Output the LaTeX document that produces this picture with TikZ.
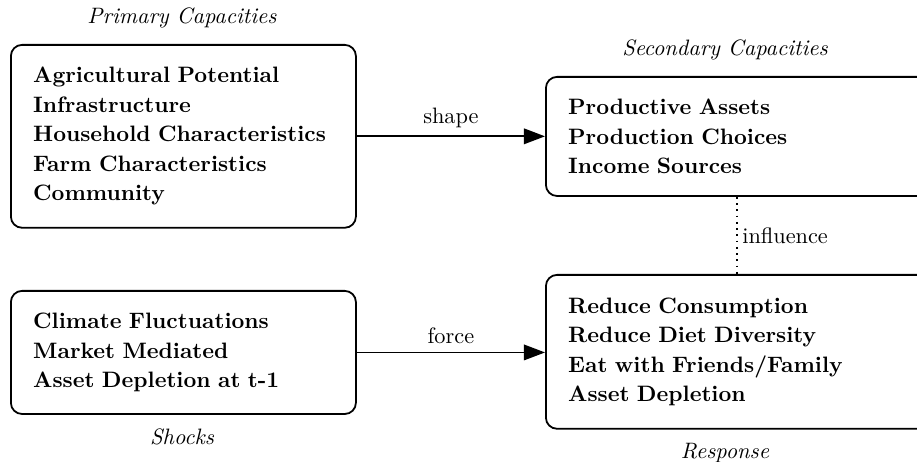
\documentclass[tikz,border=0pt]{standalone}
\usetikzlibrary{arrows.meta}
\begin{document}
\begin{tikzpicture}[x=0.4484pt,y=-0.4484pt,
  box/.style={draw, line width=0.8pt, rounded corners=5pt, align=left, anchor=north west,
    inner xsep=0pt, inner ysep=0pt,
    font={\bfseries\fontsize{10}{13.2}\selectfont}},
  ttl/.style={font=\itshape},
  arr/.style={line width=0.8pt, -{Triangle[length=9.5pt,width=7pt]}},
  lbl/.style={font=\normalsize}]
\useasboundingbox (0,0) rectangle (917,462);
\node[box, minimum width=154.7pt, minimum height=82pt, text width=154.7pt] (pc) at (10,44)
  {\hspace*{10pt}Agricultural Potential\\\hspace*{10pt}Infrastructure\\\hspace*{10pt}Household Characteristics\\\hspace*{10pt}Farm Characteristics\\\hspace*{10pt}Community};
\node[box, minimum width=172pt, minimum height=53.4pt, text width=172pt] (sc) at (545,76)
  {\hspace*{10pt}Productive Assets\\\hspace*{10pt}Production Choices\\\hspace*{10pt}Income Sources};
\node[box, minimum width=154.7pt, minimum height=55.2pt, text width=154.7pt] (sh) at (10,290)
  {\hspace*{10pt}Climate Fluctuations\\\hspace*{10pt}Market Mediated\\\hspace*{10pt}Asset Depletion at t-1};
\node[box, minimum width=172pt, minimum height=69pt, text width=172pt] (rs) at (545,274)
  {\hspace*{10pt}Reduce Consumption\\\hspace*{10pt}Reduce Diet Diversity\\\hspace*{10pt}Eat with Friends/Family\\\hspace*{10pt}Asset Depletion};
\node[ttl] (tpc) at (182,18) {Primary Capacities};
\node[ttl] (tsc) at (725,50) {Secondary Capacities};
\node[ttl] (tsh) at (182,437) {Shocks};
\node[ttl] (trs) at (725,453) {Response};
\draw[arr] (pc.east) -- node[lbl, above] {shape} (pc.east -| sc.west);
\draw[arr] (sh.east) -- node[lbl, above] {force} (sh.east -| rs.west);
\coordinate (ia) at (737,195);
\coordinate (ib) at (737,274);
\draw[line width=0.8pt, dotted] (sc.south -| ia) -- node[lbl, right, inner sep=2pt] {influence} (rs.north -| ib);
\end{tikzpicture}
\end{document}
